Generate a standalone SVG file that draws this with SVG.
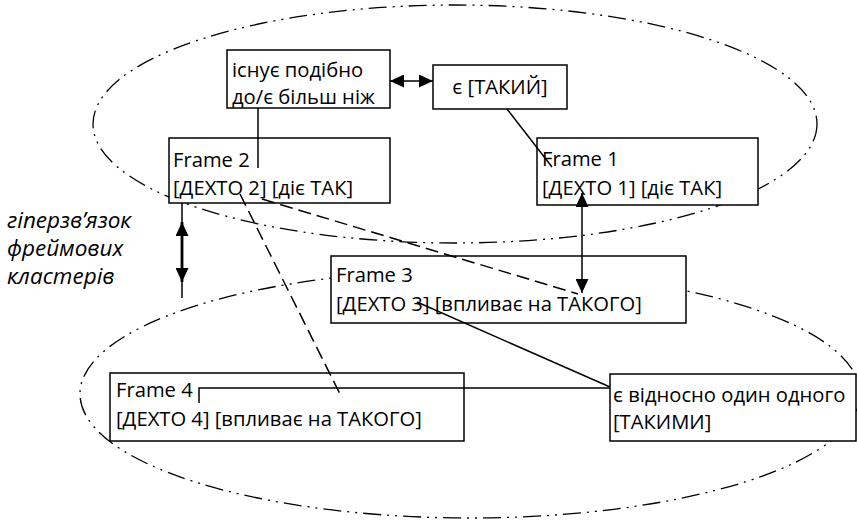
<svg xmlns="http://www.w3.org/2000/svg" width="857" height="523" viewBox="0 0 857 523">
<style>
.bg{fill:#fff}
.cl{fill:none;stroke:#000;stroke-width:1.3;stroke-dasharray:18 6 2 6 2 6}
.box{fill:#fff;stroke:#000;stroke-width:1.5}
.t{font-family:"Open Sans","Liberation Sans",sans-serif;font-size:20.2px;fill:#000}
.it{font-style:italic;font-size:22.5px}
.ln{fill:none;stroke:#000;stroke-width:1.5}
.dash{fill:none;stroke:#000;stroke-width:1.5;stroke-dasharray:13 6}
</style>
<defs>
<marker id="ah" markerUnits="userSpaceOnUse" markerWidth="14" markerHeight="13" refX="14" refY="6.5" orient="auto-start-reverse">
<path d="M0,0 L14,6.5 L0,13 z" fill="#000"/>
</marker>
</defs>
<rect class="bg" x="0" y="0" width="857" height="523"/>
<g id="clusters">
<ellipse class="cl" cx="455" cy="124" rx="362" ry="119"/>
<ellipse class="cl" cx="470" cy="394" rx="390" ry="124"/>
</g>
<g id="label">
<text class="t it" x="7" y="228">гіперзв’язок</text>
<text class="t it" x="7" y="256">фреймових</text>
<text class="t it" x="7" y="284">кластерів</text>
</g>
<g id="n-exists">
<rect class="box" x="227" y="50" width="163" height="58"/>
<text class="t" x="232" y="77">існує подібно</text>
<text class="t" x="232" y="104">до/є більш ніж</text>
</g>
<g id="n-such">
<rect class="box" x="433" y="65" width="134" height="44"/>
<text class="t" x="500" y="94" text-anchor="middle">є [ТАКИЙ]</text>
</g>
<g id="n-frame2">
<rect class="box" x="169" y="138" width="221" height="65"/>
<text class="t" x="173" y="167">Frame 2</text>
<text class="t" x="173" y="195">[ДЕХТО 2] [діє ТАК]</text>
</g>
<g id="n-frame1">
<rect class="box" x="537" y="138" width="221" height="67"/>
<text class="t" x="542" y="166">Frame 1</text>
<text class="t" x="542" y="195">[ДЕХТО 1] [діє ТАК]</text>
</g>
<g id="n-frame3">
<rect class="box" x="331" y="256" width="355" height="67"/>
<text class="t" x="336" y="282">Frame 3</text>
<text class="t" x="336" y="311">[ДЕХТО 3] [впливає на ТАКОГО]</text>
</g>
<g id="n-frame4">
<rect class="box" x="110" y="373" width="354" height="68"/>
<text class="t" x="116" y="397">Frame 4</text>
<text class="t" x="116" y="426">[ДЕХТО 4] [впливає на ТАКОГО]</text>
</g>
<g id="n-mutual">
<rect class="box" x="610" y="374" width="246" height="67"/>
<text class="t" x="613" y="402">є відносно один одного</text>
<text class="t" x="613" y="429">[ТАКИМИ]</text>
</g>
<g id="connectors">
<line class="ln" x1="390" y1="81" x2="433" y2="81" marker-start="url(#ah)" marker-end="url(#ah)"/>
<line class="ln" x1="258" y1="108" x2="258" y2="168"/>
<line class="ln" x1="507" y1="109" x2="552" y2="167"/>
<line class="ln" x1="582" y1="193" x2="582" y2="293" marker-start="url(#ah)" marker-end="url(#ah)"/>
<line class="ln" x1="182" y1="203" x2="182" y2="298"/>
<line x1="182" y1="222" x2="182" y2="282" stroke="#000" stroke-width="2.8" marker-start="url(#ah)" marker-end="url(#ah)"/>
<line class="dash" x1="240" y1="194" x2="342" y2="398"/>
<line class="dash" x1="262" y1="199" x2="578" y2="294"/>
<line class="ln" x1="417" y1="302" x2="610" y2="387"/>
<polyline class="ln" points="199,403 199,388 610,388"/>
</g>
</svg>
